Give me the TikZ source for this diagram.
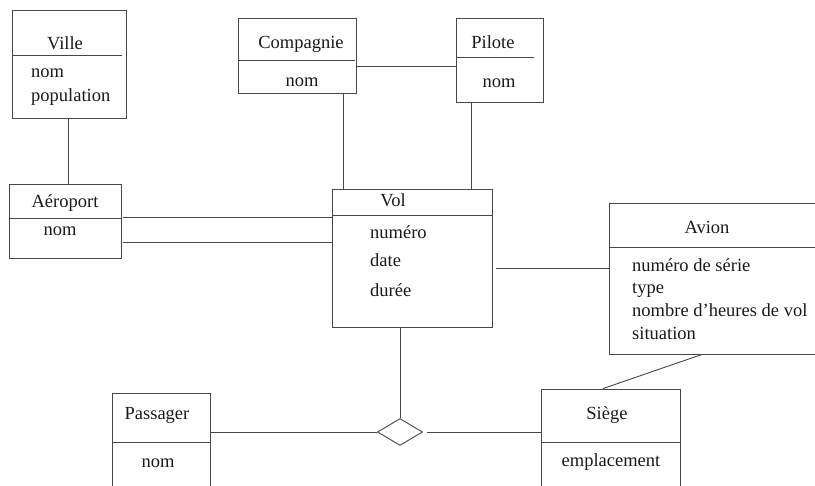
\documentclass[tikz,border=0pt]{standalone}
\usepackage{fontspec}
\setmainfont{Liberation Serif}
\usetikzlibrary{shapes.geometric}
\begin{document}
\begin{tikzpicture}[x=1pt,y=-1pt,
  ln/.style={draw=black!72,line width=0.9pt},
  box/.style={ln,rectangle,inner sep=0pt},
  txt/.style={inner sep=0pt,font=\fontsize{18.5}{22}\selectfont,text=black!90},
  ttl/.style={txt,anchor=base},
  att/.style={txt,anchor=base west}]
\useasboundingbox (0,0) rectangle (815,486);
\clip (0,0) rectangle (815,486);
% boxes
\node[box,minimum width=114pt,minimum height=108pt] (ville) at (69,64) {};
\node[box,minimum width=112pt,minimum height=74pt] (aero) at (65,221) {};
\node[box,minimum width=118pt,minimum height=75pt] (comp) at (297,55.5) {};
\node[box,minimum width=87pt,minimum height=84pt] (pilote) at (499.5,60) {};
\node[box,minimum width=160pt,minimum height=138pt] (vol) at (412,258) {};
\node[box,minimum width=221pt,minimum height=151pt] (avion) at (719.5,278.5) {};
\node[box,minimum width=98pt,minimum height=117pt] (pass) at (161,451.5) {};
\node[box,minimum width=139pt,minimum height=121pt] (siege) at (610.5,449.5) {};
\node[ln,diamond,inner sep=0pt,minimum width=45pt,minimum height=27pt] (dia) at (400,432) {};
% separators
\draw[ln] (12,55) -- (122,55);
\draw[ln] (9,218) -- (121,218);
\draw[ln] (238,60) -- (355,60);
\draw[ln] (456,57) -- (534,57);
\draw[ln] (332,215) -- (492,215);
\draw[ln] (609,247) -- (830,247);
\draw[ln] (112,442) -- (210,442);
\draw[ln] (541,442) -- (680,442);
% texts
\node[ttl] (tville) at (65,50) {Ville};
\node[att] (a1) at (31,78) {nom};
\node[att] (a2) at (31,102) {population};
\node[ttl] (taero) at (65,208) {Aéroport};
\node[ttl] (a3) at (60,236) {nom};
\node[ttl] (tcomp) at (301,49) {Compagnie};
\node[ttl] (a4) at (302,87) {nom};
\node[ttl] (tpil) at (493,49) {Pilote};
\node[ttl] (a5) at (499,88) {nom};
\node[ttl] (tvol) at (393,207) {Vol};
\node[att] (a6) at (370,239) {numéro};
\node[att] (a7) at (370,267) {date};
\node[att] (a8) at (370,297) {durée};
\node[ttl] (tavion) at (707,234) {Avion};
\node[att] (a9) at (632,272) {numéro de série};
\node[att] (a10) at (632,294) {type};
\node[att] (a11) at (632,317) {nombre d’heures de vol};
\node[att] (a12) at (632,340) {situation};
\node[ttl] (tpass) at (157,420) {Passager};
\node[ttl] (a13) at (158,468) {nom};
\node[ttl] (tsiege) at (607,420) {Siège};
\node[ttl] (a14) at (611,467) {emplacement};
% connectors
\draw[ln] (ville.south -| 68,0) -- (aero.north -| 68,0);
\draw[ln] (comp.east |- 0,66) -- (pilote.west |- 0,66);
\draw[ln] (comp.south -| 343,0) -- (vol.north -| 343,0);
\draw[ln] (pilote.south -| 471,0) -- (vol.north -| 471,0);
\draw[ln,shorten <=2pt] (aero.east |- 0,217) -- (vol.west |- 0,217);
\draw[ln,shorten <=2pt] (aero.east |- 0,242) -- (vol.west |- 0,242);
\draw[ln,shorten <=4pt] (vol.east |- 0,268) -- (avion.west |- 0,268);
\draw[ln] (vol.south -| dia.north) -- (dia.north);
\draw[ln] (pass.east |- dia.west) -- (dia.west);
\draw[ln,shorten <=4pt] (dia.east) -- (dia.east -| siege.west);
\draw[ln] (siege.north -| 603,0) -- (avion.south -| 702,0);
\end{tikzpicture}
\end{document}
